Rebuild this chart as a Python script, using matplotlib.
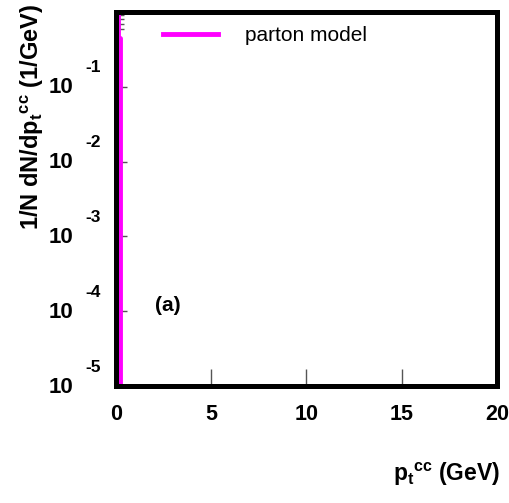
import matplotlib
matplotlib.use("Agg")
import matplotlib.pyplot as plt
from matplotlib.ticker import FixedLocator, NullFormatter
from matplotlib.transforms import blended_transform_factory, offset_copy

plt.rcParams['font.family'] = ['Liberation Sans', 'DejaVu Sans']
plt.rcParams['font.weight'] = 'bold'
plt.rcParams['mathtext.fontset'] = 'custom'
plt.rcParams['mathtext.rm'] = 'Liberation Sans:bold'
plt.rcParams['mathtext.bf'] = 'Liberation Sans:bold'
plt.rcParams['mathtext.it'] = 'Liberation Sans:bold'

# histogram of pt^cc, parton model (all at pt ~ 0)
bin_edges = [0.0, 0.1, 0.2, 0.3]
bin_values = [10.0, 0.45, 1e-9]

x_ticks = [0, 5, 10, 15, 20]
y_ticks = [1e-5, 1e-4, 1e-3, 1e-2, 1e-1]
y_exps = ['-5', '-4', '-3', '-2', '-1']
y_minor = [0.6, 0.7, 0.8, 0.9]

fig = plt.figure(figsize=(5.09, 5.03), dpi=100)
ax = fig.add_axes([0.228, 0.2326, 0.748, 0.7434])

xs = [bin_edges[0]]
ys = [1e-9]
for i, v in enumerate(bin_values):
    xs += [bin_edges[i], bin_edges[i + 1]]
    ys += [v, v]
ax.plot(xs, ys, color='#ff00ff', linewidth=3.5, label='parton model')

ax.set_yscale('log')
ax.set_xlim(0, 20)
ax.set_ylim(1e-5, 1)

ax.set_xticks(x_ticks)
ax.set_xticklabels([str(t) for t in x_ticks], fontsize=15.5, fontweight='bold')
ax.set_yticks(y_ticks)
ax.set_yticklabels([])
ax.yaxis.set_minor_locator(FixedLocator(y_minor))
ax.yaxis.set_minor_formatter(NullFormatter())

ax.tick_params(axis='both', which='major', direction='in', length=8, width=1,
               color='#555555', pad=13)
ax.tick_params(axis='y', which='minor', direction='in', length=6, width=1, color='#555555')
ax.tick_params(axis='x', which='major', length=12)
ax.tick_params(top=False, right=False)

# y tick labels drawn as "10" with a raised exponent
tr = blended_transform_factory(fig.transFigure, ax.transData)
for yv, e in zip(y_ticks, y_exps):
    ax.text(73 / 509, yv, '10', transform=offset_copy(tr, fig=fig, y=-1, units='dots'),
            fontsize=16, fontweight='bold', ha='right', va='center')
    ax.text(85 / 509, yv, e, transform=offset_copy(tr, fig=fig, y=19, units='dots'),
            fontsize=12.5, fontweight='bold', ha='left', va='center')

for sp in ax.spines.values():
    sp.set_linewidth(3.6)
    sp.set_color('black')

fig.text(0.063, 0.992, r'1/N dN/dp$_\mathbf{t}{}^\mathbf{cc}$ (1/GeV)', fontsize=17,
         fontweight='bold', rotation=90, ha='center', va='top')
fig.text(0.982, 0.043, r'p$_\mathbf{t}{}^\mathbf{cc}$ (GeV)', fontsize=16.5, fontweight='bold',
         ha='right', va='baseline')

ax.text(0.103, 0.2, '(a)', transform=ax.transAxes, fontsize=15, fontweight='bold')

leg = ax.legend(loc='upper left', bbox_to_anchor=(0.075, 1.012), frameon=False,
                handlelength=2.6, handletextpad=1.3, fontsize=15)
for t in leg.get_texts():
    t.set_fontweight('normal')

fig.savefig('out.png', dpi=100)
